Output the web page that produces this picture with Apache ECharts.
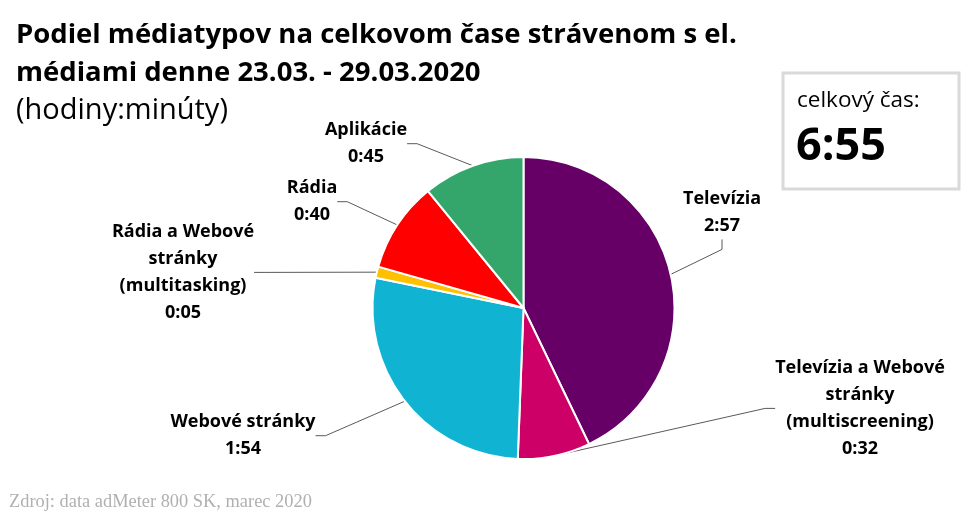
<!DOCTYPE html>
<html><head><meta charset="utf-8">
<script src="https://cdn.jsdelivr.net/npm/echarts@6/dist/echarts.min.js"></script>
<style>html,body{margin:0;padding:0;background:#fff}#c{width:980px;height:523px}</style>
</head><body><div id="c"></div>
<script>
const categories = ['Televízia', 'Televízia a Webové\nstránky\n(multiscreening)', 'Webové stránky', 'Rádia a Webové\nstránky\n(multitasking)', 'Rádia', 'Aplikácie'];
const minutes = [177, 32, 114, 5, 40, 45];
const colors = ['#660066', '#CC0066', '#10B4D2', '#FFC000', '#FF0000', '#35A66B'];
const totalText = '6:55';
const titleLines = 'Podiel médiatypov na celkovom čase strávenom s el.\nmédiami denne 23.03. - 29.03.2020';
const subtitleText = '(hodiny:minúty)';
const sourceText = 'Zdroj: data adMeter 800 SK, marec 2020';

// label anchor positions (center x, top y) - layout only
const labelPos = [[722, 186], [860, 355], [243, 409], [183, 219], [312, 175], [366, 117]];

function fmt(m){ const h = Math.floor(m/60); const mm = m%60; return h + ':' + (mm<10?'0':'') + mm; }

const font = '"Open Sans", sans-serif';
const chart = echarts.init(document.getElementById('c'));
chart.setOption({
  animation: false,
  title: [
    { text: titleLines, left: 11, top: 11, textStyle: { fontFamily: font, fontWeight: 'bold', fontSize: 27.5, lineHeight: 38, color: '#000' } },
    { text: subtitleText, left: 11, top: 91, textStyle: { fontFamily: font, fontWeight: 'normal', fontSize: 29, color: '#000' } },
    { text: sourceText, left: 4, top: 488, textStyle: { fontFamily: '"Liberation Serif", serif', fontWeight: 'normal', fontSize: 18.4, color: '#B0B0B0' } }
  ],
  graphic: [
    { type: 'rect', shape: { x: 783, y: 73, width: 176, height: 116 }, style: { fill: '#fff', stroke: '#D9D9D9', lineWidth: 3 } },
    { type: 'text', left: 797, top: 89, style: { text: 'celkový čas:', font: '22.5px ' + font, fill: '#000' } },
    { type: 'text', left: 796, top: 125, style: { text: totalText, font: 'bold 45px ' + font, fill: '#000' } }
  ],
  series: [{
    type: 'pie',
    center: [523.5, 308],
    radius: [0, 151],
    startAngle: 90,
    clockwise: true,
    data: categories.map((c, i) => ({ name: c, value: minutes[i], itemStyle: { color: colors[i] } })),
    itemStyle: { borderColor: '#fff', borderWidth: 2 },
    label: {
      show: true,
      formatter: p => p.name + '\n' + fmt(p.value),
      fontFamily: font, fontWeight: 'bold', fontSize: 18, lineHeight: 26.7, color: '#000', align: 'center'
    },
    labelLine: { show: true, lineStyle: { color: '#595959', width: 1 }, length: 20, length2: 10 },
    labelLayout: function (p) {
      const pos = labelPos[p.dataIndex];
      return { x: pos[0], y: pos[1], align: 'center', verticalAlign: 'top' };
    }
  }]
});
</script></body></html>
